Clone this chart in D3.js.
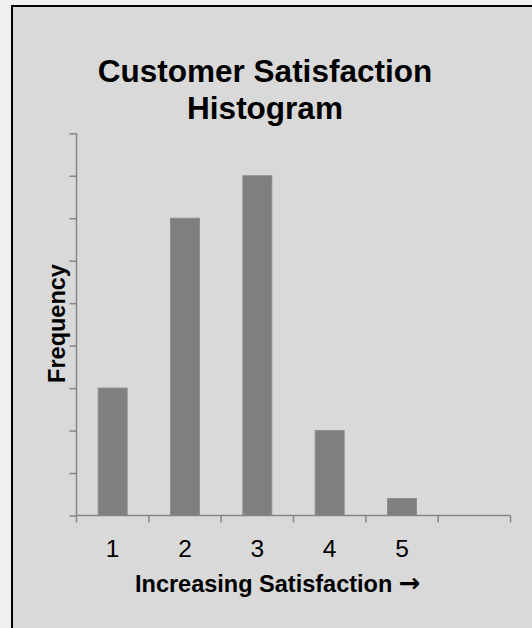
<!DOCTYPE html>
<html>
<head>
<meta charset="utf-8">
<script src="https://cdn.jsdelivr.net/npm/d3@7"></script>
<style>
  html, body { margin: 0; padding: 0; background: #f0f0f0; }
  svg { display: block; }
  text { font-family: "Liberation Sans", Arial, sans-serif; }
</style>
</head>
<body>
<svg id="chart" width="532" height="628"></svg>
<script>
// ---- data ----
const categories = ["1", "2", "3", "4", "5", ""];
const frequencies = [15, 35, 40, 10, 2, null];
const yTicks = [0, 5, 10, 15, 20, 25, 30, 35, 40, 45];
const titleLines = ["Customer Satisfaction", "Histogram"];
const xTitle = "Increasing Satisfaction ";
const xArrow = "\u2192";
const yTitle = "Frequency";

// ---- layout ----
const W = 532, H = 628;
const plot = { left: 76.5, right: 510.5, top: 133.3, bottom: 515.5 };
const axisColor = "#868686";

const svg = d3.select("#chart");

// frame
svg.append("rect")
  .attr("x", 12).attr("y", 6)
  .attr("width", W + 10).attr("height", H + 10)
  .attr("fill", "#d9d9d9")
  .attr("stroke", "#000").attr("stroke-width", 2);

const x = d3.scaleBand().domain(categories).range([plot.left, plot.right]).padding(0);
const y = d3.scaleLinear().domain([0, 45]).range([plot.bottom, plot.top]);

// bars
const barW = x.bandwidth() * 0.4;
svg.append("g").selectAll("rect")
  .data(categories.map((c, i) => ({ c, v: frequencies[i] })).filter(d => d.v != null))
  .join("rect")
  .attr("x", d => x(d.c) + (x.bandwidth() - barW) / 2)
  .attr("y", d => y(d.v))
  .attr("width", barW)
  .attr("height", d => y(0) - y(d.v))
  .attr("fill", "#7f7f7f")
  .attr("stroke", "#8c8c8c")
  .attr("stroke-width", 1);

// y axis
const yAxis = d3.axisLeft(y).tickValues(yTicks).tickSize(7).tickFormat("");
const gy = svg.append("g").attr("transform", `translate(${plot.left},0)`).call(yAxis);
gy.select(".domain").attr("stroke", axisColor).attr("stroke-width", 1.5).attr("d", `M0,${plot.top}V${plot.bottom}`);
gy.selectAll(".tick line").attr("stroke", axisColor).attr("stroke-width", 1.5);

// x axis (labels at band centers)
const xAxis = d3.axisBottom(x).tickSize(0).tickPadding(0);
const gx = svg.append("g").attr("transform", `translate(0,${plot.bottom})`).call(xAxis);
gx.select(".domain").attr("stroke", axisColor).attr("stroke-width", 1.5).attr("d", `M${plot.left},0H${plot.right}`);
gx.selectAll(".tick text")
  .attr("y", 41).attr("dy", null)
  .attr("font-size", 24.5).attr("fill", "#000")
  .style("font-family", '"Liberation Sans", Arial, sans-serif');

// x tick marks at band boundaries
const bounds = categories.map(c => x(c)).concat([x.range()[1]]);
gx.append("g").selectAll("line")
  .data(bounds)
  .join("line")
  .attr("x1", d => d).attr("x2", d => d)
  .attr("y1", 0).attr("y2", 7)
  .attr("stroke", axisColor).attr("stroke-width", 1.5);

// title
svg.append("text")
  .attr("x", 265).attr("y", 81.5)
  .attr("text-anchor", "middle")
  .attr("font-size", 31.5).attr("font-weight", "bold")
  .selectAll("tspan").data(titleLines).join("tspan")
  .attr("x", 265).attr("dy", (d, i) => i === 0 ? 0 : 37)
  .text(d => d);

// axis titles
const xt = svg.append("text")
  .attr("x", 135).attr("y", 591.5)
  .attr("font-size", 23.5).attr("font-weight", "bold");
xt.append("tspan").text(xTitle);
xt.append("tspan")
  .style("font-family", '"DejaVu Sans", sans-serif')
  .attr("font-size", 26).attr("font-weight", "bold")
  .text(xArrow);

svg.append("text")
  .attr("transform", `translate(65,323.5) rotate(-90)`)
  .attr("text-anchor", "middle")
  .attr("font-size", 23.5).attr("font-weight", "bold")
  .text(yTitle);
</script>
</body>
</html>
